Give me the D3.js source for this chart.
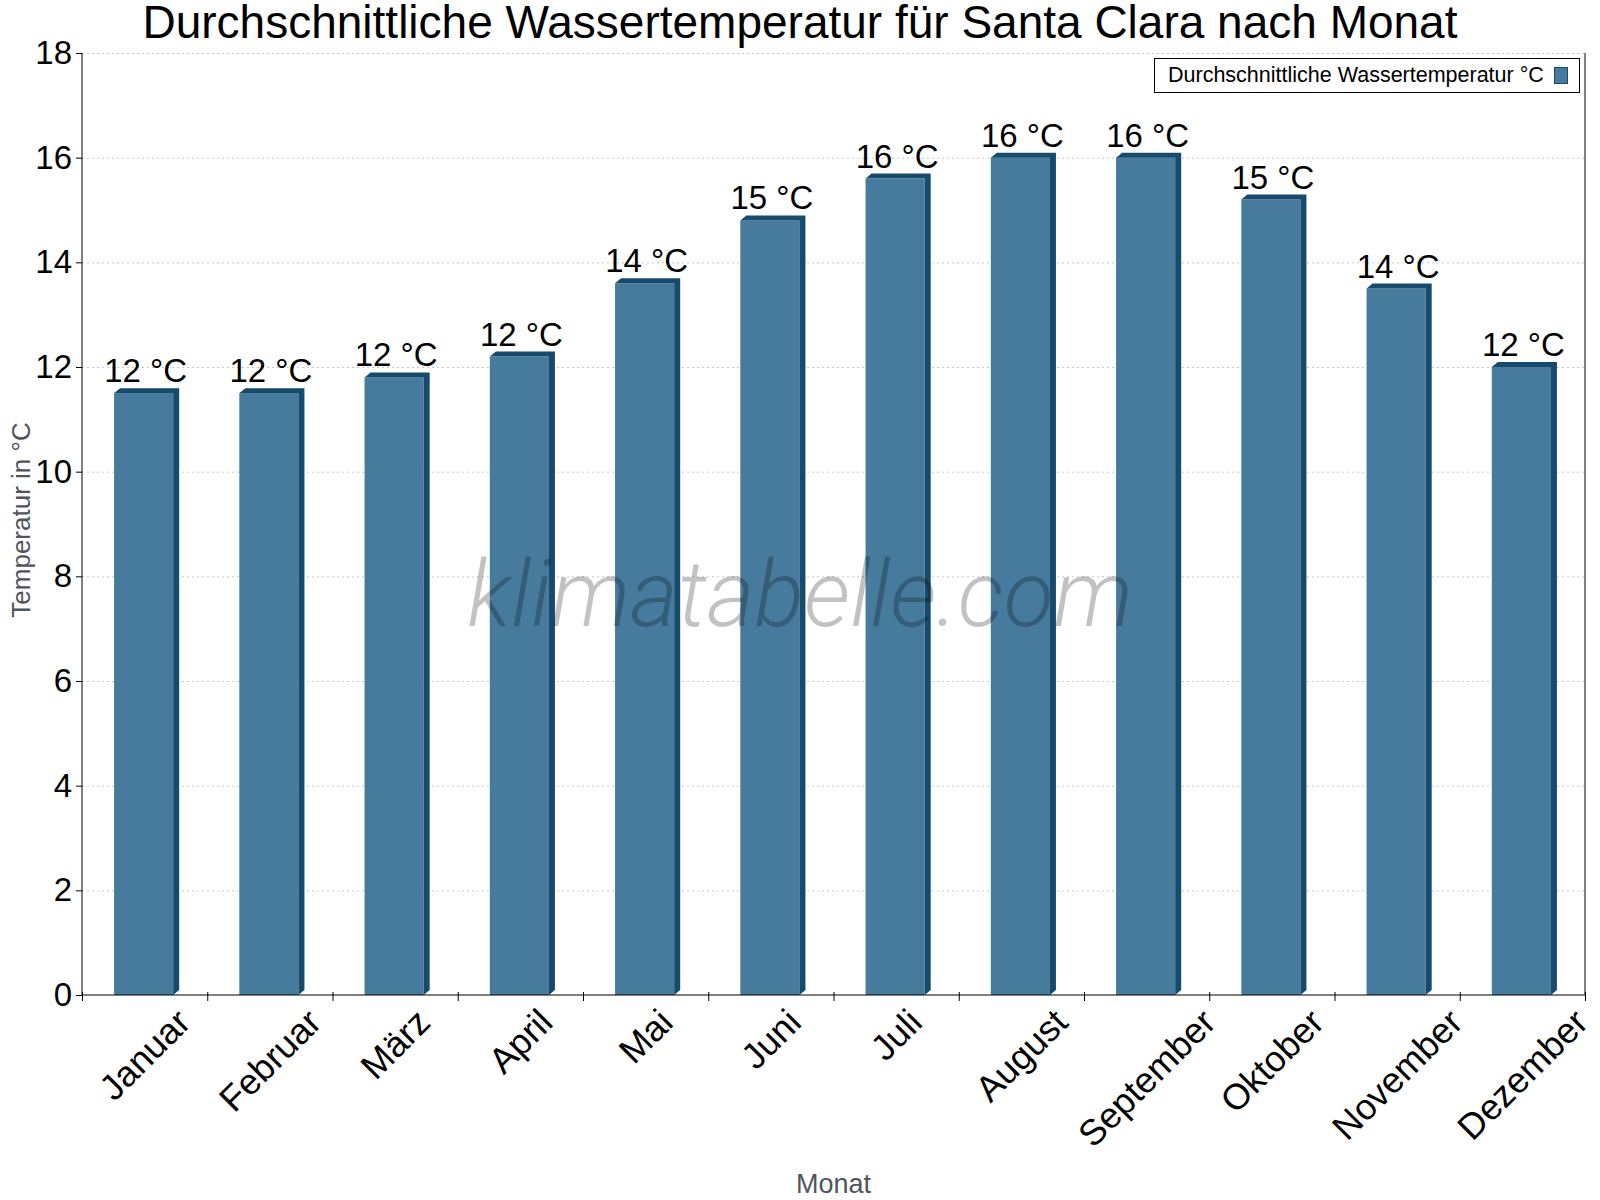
<!DOCTYPE html>
<html>
<head>
<meta charset="utf-8">
<script src="https://cdn.jsdelivr.net/npm/d3@7"></script>
<style>
  body { margin: 0; background: #fff; }
  svg { display: block; font-family: "Liberation Sans", Arial, sans-serif; }
</style>
</head>
<body>
<div id="chart"></div>
<script>
const months = ['Januar', 'Februar', 'März', 'April', 'Mai', 'Juni', 'Juli', 'August', 'September', 'Oktober', 'November', 'Dezember'];
const waterTemp = [11.5, 11.5, 11.8, 12.2, 13.6, 14.8, 15.6, 16.0, 16.0, 15.2, 13.5, 12.0];
const yTicks = [0, 2, 4, 6, 8, 10, 12, 14, 16, 18];

const W = 1600, H = 1200;
const margin = { top: 53, right: 15, bottom: 205, left: 82 };
const width = W - margin.left - margin.right;
const height = H - margin.top - margin.bottom;
const depth = { dx: 6, dy: 5 };

const svg = d3.select('#chart').append('svg')
  .attr('width', W)
  .attr('height', H);

const g = svg.append('g')
  .attr('transform', 'translate(' + margin.left + ',' + margin.top + ')');

const x = d3.scaleBand()
  .domain(months)
  .range([0, width])
  .paddingInner(0.48)
  .paddingOuter(0.24);

const xEdge = d3.scaleLinear()
  .domain([0, months.length])
  .range([0, width]);

const y = d3.scaleLinear()
  .domain([0, 18])
  .range([height, 0]);

// grid
const grid = g.append('g')
  .call(d3.axisLeft(y).tickValues(yTicks.slice(1)).tickSize(-width).tickFormat(''));
grid.select('.domain').remove();
grid.selectAll('line')
  .attr('stroke', '#c8c8c8')
  .attr('stroke-dasharray', '2,3');

// bars (front + dark top/side)
const bars = g.selectAll('.bar').data(waterTemp).enter()
  .append('g')
  .attr('class', 'bar')
  .attr('transform', (d, i) => 'translate(' + (x(months[i]) + 2) + ',0)');

const fw = x.bandwidth() - depth.dx;

bars.append('rect')
  .attr('x', 0)
  .attr('y', (d) => y(d))
  .attr('width', fw)
  .attr('height', (d) => height - y(d))
  .attr('fill', '#467b9e');

bars.append('path')
  .attr('fill', '#174b6e')
  .attr('d', (d) => {
    const t = y(d);
    return 'M0,' + t + 'L' + depth.dx + ',' + (t - depth.dy) + 'L' + (fw + depth.dx) + ',' + (t - depth.dy) +
      'L' + (fw + depth.dx) + ',' + (height - depth.dy) + 'L' + fw + ',' + height + 'L' + fw + ',' + t + 'Z';
  });

// value labels
g.selectAll('.vlabel').data(waterTemp).enter()
  .append('text')
  .attr('class', 'vlabel')
  .attr('x', (d, i) => x(months[i]) + x.bandwidth() / 2 + 1)
  .attr('y', (d) => y(d) - depth.dy - 6)
  .attr('text-anchor', 'middle')
  .attr('font-size', 33)
  .attr('fill', '#000')
  .text((d) => Math.round(d) + ' °C');

// watermark
svg.append('text')
  .attr('x', 800)
  .attr('y', 626)
  .attr('text-anchor', 'middle')
  .attr('font-family', 'Roboto, "Liberation Sans", sans-serif')
  .attr('font-weight', 300)
  .attr('font-style', 'italic')
  .attr('font-size', 92)
  .attr('fill', 'rgba(0,0,0,0.24)')
  .text('klimatabelle.com');

// y axis
const yAxis = g.append('g')
  .call(d3.axisLeft(y).tickValues(yTicks).tickSize(6).tickPadding(4));
yAxis.selectAll('text').attr('font-size', 33).attr('fill', '#000').attr('font-family', '"Liberation Sans", Arial, sans-serif');
yAxis.selectAll('line').attr('stroke', '#000');
yAxis.select('.domain').attr('stroke', '#000').attr('d', 'M0,0V' + height);

// right border
g.append('line')
  .attr('x1', width).attr('x2', width)
  .attr('y1', 0).attr('y2', height)
  .attr('stroke', '#000');

// x axis
const xAxis = g.append('g')
  .attr('transform', 'translate(0,' + height + ')')
  .call(d3.axisBottom(xEdge).tickValues(d3.range(months.length + 1)).tickSize(6).tickFormat(''));
xAxis.select('.domain').attr('stroke', '#000').attr('d', 'M0,0H' + width);
xAxis.selectAll('line').attr('stroke', '#000').attr('y1', -3);

const labelSize = 36;
const labelTop = 1003 - margin.top - height;
xAxis.selectAll('.mlabel').data(months).enter()
  .append('text')
  .attr('class', 'mlabel')
  .attr('text-anchor', 'middle')
  .attr('dominant-baseline', 'central')
  .attr('font-size', labelSize)
  .attr('fill', '#000')
  .text((d) => d)
  .each(function (d) {
    const len = this.getComputedTextLength();
    const cx = x(d) + x.bandwidth() / 2;
    const cy = labelTop + (len + labelSize) * Math.SQRT1_2 / 2;
    d3.select(this).attr('transform', 'translate(' + cx + ',' + cy + ') rotate(-45)');
  });

// axis titles
svg.append('text')
  .attr('transform', 'translate(30,520) rotate(-90)')
  .attr('text-anchor', 'middle')
  .attr('font-size', 26)
  .attr('fill', '#4f555b')
  .text('Temperatur in °C');

svg.append('text')
  .attr('x', margin.left + width / 2)
  .attr('y', 1193)
  .attr('text-anchor', 'middle')
  .attr('font-size', 27)
  .attr('fill', '#4f555b')
  .text('Monat');

// title
svg.append('text')
  .attr('x', W / 2)
  .attr('y', 38)
  .attr('text-anchor', 'middle')
  .attr('font-size', 46)
  .attr('fill', '#000')
  .text('Durchschnittliche Wassertemperatur für Santa Clara nach Monat');

// legend
const legend = svg.append('g');
legend.append('rect')
  .attr('x', 1154.5).attr('y', 58.5)
  .attr('width', 425).attr('height', 34)
  .attr('fill', '#fff')
  .attr('stroke', '#000');
legend.append('text')
  .attr('x', 1168).attr('y', 82)
  .attr('font-size', 21.5)
  .attr('fill', '#000')
  .text('Durchschnittliche Wassertemperatur °C');
legend.append('rect')
  .attr('x', 1554.5).attr('y', 67.5)
  .attr('width', 13).attr('height', 16)
  .attr('fill', '#467b9e')
  .attr('stroke', '#174b6e');
</script>
</body>
</html>
